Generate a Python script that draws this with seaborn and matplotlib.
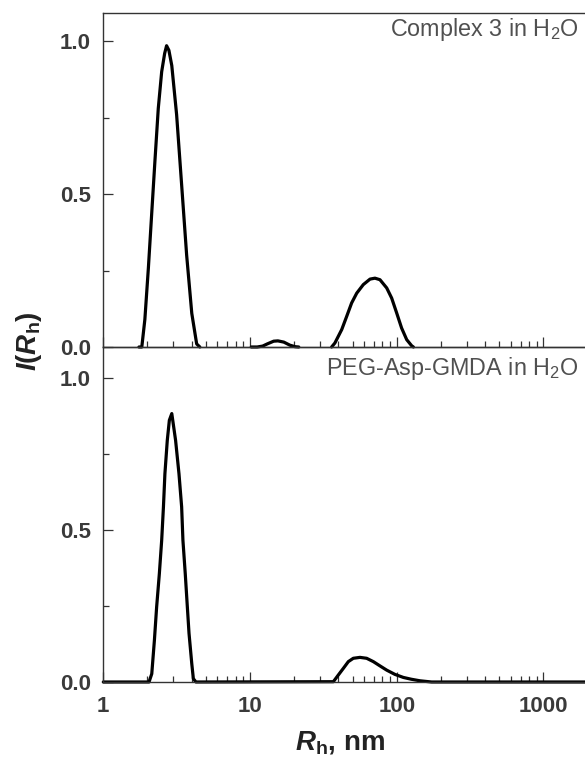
import numpy as np
import pandas as pd
import matplotlib
matplotlib.use("Agg")
import matplotlib.pyplot as plt
from matplotlib.ticker import LogLocator, FixedLocator, NullFormatter
import seaborn as sns

# --- Complex 3 in H2O: size distribution (three separate populations) ---
c3_peak1_R = [1.75, 1.83, 1.92, 2.03, 2.14, 2.25, 2.37, 2.50, 2.62, 2.70, 2.80,
              2.93, 3.16, 3.42, 3.70, 4.01, 4.33, 4.55]
c3_peak1_I = [0.0, 0.0, 0.09, 0.26, 0.44, 0.61, 0.78, 0.90, 0.96, 0.985, 0.97,
              0.92, 0.76, 0.53, 0.30, 0.11, 0.01, 0.0]
c3_peak2_R = [10.2, 11.2, 12.2, 13.1, 14.5, 15.5, 17.0, 18.7, 20.3, 21.5]
c3_peak2_I = [0.0, 0.0, 0.003, 0.01, 0.019, 0.02, 0.016, 0.006, 0.001, 0.0]
c3_peak3_R = [36.0, 37.9, 42.2, 45.6, 49.3, 53.4, 59.2, 65.8, 71.1, 76.9, 85.5,
              92.4, 100.0, 108.0, 117.0, 126.5, 130.0]
c3_peak3_I = [0.0, 0.013, 0.057, 0.10, 0.144, 0.176, 0.204, 0.222, 0.225, 0.220,
              0.193, 0.160, 0.111, 0.062, 0.024, 0.004, 0.0]

# --- PEG-Asp-GMDA in H2O: size distribution over the full range ---
peg_R = [1.0, 2.05, 2.14, 2.23, 2.31, 2.41, 2.50, 2.57, 2.63, 2.73, 2.82, 2.93,
         3.11, 3.28, 3.42, 3.49, 3.62, 3.74, 3.84, 4.01, 4.11, 4.28,
         37.0, 40.0, 43.3, 46.8, 50.6, 56.2, 62.4, 69.3, 76.9, 85.5, 97.3,
         111.0, 126.0, 144.0, 173.0, 2000.0]
peg_I = [0.0, 0.0, 0.027, 0.137, 0.247, 0.356, 0.466, 0.576, 0.685, 0.795, 0.861,
         0.883, 0.795, 0.685, 0.576, 0.466, 0.356, 0.247, 0.16, 0.06, 0.011, 0.0,
         0.001, 0.023, 0.045, 0.067, 0.078, 0.081, 0.078, 0.067, 0.053, 0.039,
         0.025, 0.015, 0.009, 0.004, 0.0, 0.0]

x_ticks = [1, 10, 100, 1000]
x_tick_labels = ["1", "10", "100", "1000"]
y_ticks = [0.0, 0.5, 1.0]
y_tick_labels = ["0.0", "0.5", "1.0"]

label_top = "Complex 3 in H$_2$O"
label_bottom = "PEG-Asp-GMDA in H$_2$O"

top_df = pd.concat([
    pd.DataFrame({"R": c3_peak1_R, "I": c3_peak1_I, "peak": 1}),
    pd.DataFrame({"R": c3_peak2_R, "I": c3_peak2_I, "peak": 2}),
    pd.DataFrame({"R": c3_peak3_R, "I": c3_peak3_I, "peak": 3}),
], ignore_index=True)
bottom_df = pd.DataFrame({"R": peg_R, "I": peg_I})

sns.set_theme(style="ticks")
plt.rcParams["font.family"] = ["Liberation Sans", "DejaVu Sans"]
plt.rcParams["mathtext.fontset"] = "custom"
plt.rcParams["mathtext.rm"] = "Liberation Sans"
plt.rcParams["mathtext.it"] = "Liberation Sans:italic"
plt.rcParams["mathtext.bf"] = "Liberation Sans:bold"
plt.rcParams["mathtext.bfit"] = "Liberation Sans:italic:bold"

W, H = 585, 762
fig = plt.figure(figsize=(W / 100, H / 100), dpi=100)

x_left = 103.3
decade = 146.7
x_min, x_max = 1, 2000
ax_w = decade * np.log10(x_max / x_min)

def fig_rect(top_px, bottom_px):
    return [x_left / W, 1 - bottom_px / H, ax_w / W, (bottom_px - top_px) / H]

ax_top = fig.add_axes(fig_rect(13, 347))
ax_bot = fig.add_axes(fig_rect(347, 682))

spine_col = "#333333"
tick_col = "#3a3a3a"
line_kw = dict(color="black", linewidth=2.3, clip_on=False)

sns.lineplot(data=top_df, x="R", y="I", units="peak", estimator=None,
             ax=ax_top, legend=False, **line_kw)
sns.lineplot(data=bottom_df, x="R", y="I", estimator=None,
             ax=ax_bot, legend=False, **line_kw)

for ax, ytop in ((ax_top, 1.092), (ax_bot, 1.102)):
    ax.set_xscale("log")
    ax.set_xlim(x_min, x_max)
    ax.set_ylim(0, ytop)
    ax.set_xlabel("")
    ax.set_ylabel("")
    for s in ax.spines.values():
        s.set_color(spine_col)
        s.set_linewidth(1.0)
    ax.xaxis.set_major_locator(FixedLocator(x_ticks))
    ax.xaxis.set_minor_locator(LogLocator(base=10, subs=np.arange(2, 10)))
    ax.xaxis.set_minor_formatter(NullFormatter())
    ax.yaxis.set_major_locator(FixedLocator(y_ticks))
    ax.yaxis.set_minor_locator(FixedLocator([0.25, 0.75]))
    ax.set_yticklabels(y_tick_labels)
    ax.tick_params(which="both", direction="in", color=spine_col, width=0.9,
                   top=False, right=False)
    ax.tick_params(which="major", length=7)
    ax.tick_params(which="minor", length=4)
    ax.tick_params(axis="y", which="major", pad=9, labelsize=16,
                   labelcolor=tick_col)
    for t in ax.get_yticklabels():
        t.set_fontweight("bold")

ax_top.set_xticks(x_ticks)
ax_top.set_xticklabels([])
ax_bot.set_xticks(x_ticks)
ax_bot.set_xticklabels(x_tick_labels)
ax_bot.tick_params(axis="x", which="major", pad=10, labelsize=16,
                   labelcolor=tick_col)
for t in ax_bot.get_xticklabels():
    t.set_fontweight("bold")

ax_top.patch.set_alpha(0)
ax_bot.patch.set_alpha(0)

txt_col = "#505050"
fig.text(579 / W, 1 - 36 / H, label_top, ha="right", va="baseline",
         fontsize=16.8, color=txt_col)
fig.text(578 / W, 1 - 375 / H, label_bottom, ha="right", va="baseline",
         fontsize=16.8, color=txt_col)

fig.text(340 / W, 1 - 742 / H, r"$\mathbfit{R}_{\mathbf{h}}$, nm",
         ha="center", va="center", fontsize=20, fontweight="bold",
         color="#222222")
fig.text(29 / W, 1 - 341 / H,
         r"$\mathbfit{I}\mathbf{(}\mathbfit{R}_{\mathbf{h}}\mathbf{)}$",
         ha="center", va="center", rotation=90, fontsize=20, color="#222222")

fig.savefig("out.png", dpi=100)
